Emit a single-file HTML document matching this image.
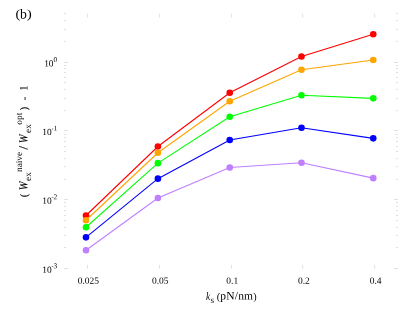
<!DOCTYPE html>
<html lang="en"><head><meta charset="utf-8"><title>chart</title>
<style>html,body{margin:0;padding:0;background:#fff}svg{display:block;will-change:transform}</style></head>
<body>
<svg width="415" height="321" viewBox="0 0 415 321">
<rect width="415" height="321" fill="#fff"/>
<path d="M64 62h4v1h-4zM394 62h4v1h-4zM64 130h4v1h-4zM394 130h4v1h-4zM64 199h4v1h-4zM394 199h4v1h-4zM64 268h4v1h-4zM394 268h4v1h-4zM64 41h2v1h-2zM396 41h2v1h-2zM64 29h2v1h-2zM396 29h2v1h-2zM64 20h2v1h-2zM396 20h2v1h-2zM64 13h2v1h-2zM396 13h2v1h-2zM64 110h2v1h-2zM396 110h2v1h-2zM64 98h2v1h-2zM396 98h2v1h-2zM64 89h2v1h-2zM396 89h2v1h-2zM64 82h2v1h-2zM396 82h2v1h-2zM64 77h2v1h-2zM396 77h2v1h-2zM64 72h2v1h-2zM396 72h2v1h-2zM64 68h2v1h-2zM396 68h2v1h-2zM64 65h2v1h-2zM396 65h2v1h-2zM64 179h2v1h-2zM396 179h2v1h-2zM64 166h2v1h-2zM396 166h2v1h-2zM64 158h2v1h-2zM396 158h2v1h-2zM64 151h2v1h-2zM396 151h2v1h-2zM64 146h2v1h-2zM396 146h2v1h-2zM64 141h2v1h-2zM396 141h2v1h-2zM64 137h2v1h-2zM396 137h2v1h-2zM64 134h2v1h-2zM396 134h2v1h-2zM64 247h2v1h-2zM396 247h2v1h-2zM64 235h2v1h-2zM396 235h2v1h-2zM64 227h2v1h-2zM396 227h2v1h-2zM64 220h2v1h-2zM396 220h2v1h-2zM64 215h2v1h-2zM396 215h2v1h-2zM64 210h2v1h-2zM396 210h2v1h-2zM64 206h2v1h-2zM396 206h2v1h-2zM64 202h2v1h-2zM396 202h2v1h-2z" fill="#e0e0e0" shape-rendering="crispEdges"/>
<path d="M87.1 13.7h1v3.9h-1zM87.1 264.8h1v3.9h-1zM159.1 13.7h1v3.9h-1zM159.1 264.8h1v3.9h-1zM231.1 13.7h1v3.9h-1zM231.1 264.8h1v3.9h-1zM302.1 13.7h1v3.9h-1zM302.1 264.8h1v3.9h-1zM374.1 13.7h1v3.9h-1zM374.1 264.8h1v3.9h-1z" fill="#e0e0e0"/>
<polyline points="86,215.5 157.9,146.5 229.75,92.75 301.5,56.5 373.25,34.25" fill="none" stroke="#ff0000" stroke-width="1.1"/>
<circle cx="86" cy="215.5" r="3.3" fill="#ff0000"/>
<circle cx="157.9" cy="146.5" r="3.3" fill="#ff0000"/>
<circle cx="229.75" cy="92.75" r="3.3" fill="#ff0000"/>
<circle cx="301.5" cy="56.5" r="3.3" fill="#ff0000"/>
<circle cx="373.25" cy="34.25" r="3.3" fill="#ff0000"/>
<polyline points="86,220.25 157.9,152.75 229.75,101.25 301.5,69.75 373.25,60.0" fill="none" stroke="#ffa500" stroke-width="1.1"/>
<circle cx="86" cy="220.25" r="3.3" fill="#ffa500"/>
<circle cx="157.9" cy="152.75" r="3.3" fill="#ffa500"/>
<circle cx="229.75" cy="101.25" r="3.3" fill="#ffa500"/>
<circle cx="301.5" cy="69.75" r="3.3" fill="#ffa500"/>
<circle cx="373.25" cy="60.0" r="3.3" fill="#ffa500"/>
<polyline points="86,227.25 157.9,163.15 229.75,116.75 301.5,95.25 373.25,98.35" fill="none" stroke="#00ff00" stroke-width="1.1"/>
<circle cx="86" cy="227.25" r="3.3" fill="#00ff00"/>
<circle cx="157.9" cy="163.15" r="3.3" fill="#00ff00"/>
<circle cx="229.75" cy="116.75" r="3.3" fill="#00ff00"/>
<circle cx="301.5" cy="95.25" r="3.3" fill="#00ff00"/>
<circle cx="373.25" cy="98.35" r="3.3" fill="#00ff00"/>
<polyline points="86,237.35 157.9,178.65 229.75,140.0 301.5,127.75 373.25,138.35" fill="none" stroke="#0000ff" stroke-width="1.1"/>
<circle cx="86" cy="237.35" r="3.3" fill="#0000ff"/>
<circle cx="157.9" cy="178.65" r="3.3" fill="#0000ff"/>
<circle cx="229.75" cy="140.0" r="3.3" fill="#0000ff"/>
<circle cx="301.5" cy="127.75" r="3.3" fill="#0000ff"/>
<circle cx="373.25" cy="138.35" r="3.3" fill="#0000ff"/>
<polyline points="86,250.25 157.9,198.0 229.75,167.5 301.5,162.75 373.25,178.15" fill="none" stroke="#bf7fff" stroke-width="1.1"/>
<circle cx="86" cy="250.25" r="3.3" fill="#bf7fff"/>
<circle cx="157.9" cy="198.0" r="3.3" fill="#bf7fff"/>
<circle cx="229.75" cy="167.5" r="3.3" fill="#bf7fff"/>
<circle cx="301.5" cy="162.75" r="3.3" fill="#bf7fff"/>
<circle cx="373.25" cy="178.15" r="3.3" fill="#bf7fff"/>
<g font-family="Liberation Serif, serif" fill="#000" text-rendering="geometricPrecision" opacity="0.999">
<text transform="translate(15.43,17.92) rotate(0.03) scale(1.15,1)" font-size="12.3">(</text>
<text transform="rotate(0.03 20.06 18.4)" x="20.06" y="18.4" font-size="13.7">b</text>
<text transform="translate(26.92,17.92) rotate(0.03) scale(1.15,1)" font-size="12.3">)</text>
<text transform="rotate(0.03 88.4 283.8)" x="88.4" y="283.8" font-size="9.5" text-anchor="middle">0.025</text>
<text transform="rotate(0.03 160.3 283.8)" x="160.3" y="283.8" font-size="9.5" text-anchor="middle">0.05</text>
<text transform="rotate(0.03 232.2 283.8)" x="232.2" y="283.8" font-size="9.5" text-anchor="middle">0.1</text>
<text transform="rotate(0.03 303.9 283.8)" x="303.9" y="283.8" font-size="9.5" text-anchor="middle">0.2</text>
<text transform="rotate(0.03 375.6 283.8)" x="375.6" y="283.8" font-size="9.5" text-anchor="middle">0.4</text>
<text transform="rotate(0.03 53.55 66.4)" x="53.55" y="66.4" font-size="9.4" text-anchor="end">10</text>
<text transform="rotate(0.03 53.6 61.9)" x="53.6" y="61.9" font-size="7.4">0</text>
<text transform="rotate(0.03 51.65 135.05)" x="51.65" y="135.05" font-size="9.4" text-anchor="end">10</text>
<text transform="rotate(0.03 51.4 130.55)" x="51.4" y="130.55" font-size="6.4">-</text>
<text transform="rotate(0.03 53.6 130.55)" x="53.6" y="130.55" font-size="7.4">1</text>
<text transform="rotate(0.03 51.65 203.7)" x="51.65" y="203.7" font-size="9.4" text-anchor="end">10</text>
<text transform="rotate(0.03 51.4 199.2)" x="51.4" y="199.2" font-size="6.4">-</text>
<text transform="rotate(0.03 53.6 199.2)" x="53.6" y="199.2" font-size="7.4">2</text>
<text transform="rotate(0.03 51.65 272.65)" x="51.65" y="272.65" font-size="9.4" text-anchor="end">10</text>
<text transform="rotate(0.03 51.4 268.15)" x="51.4" y="268.15" font-size="6.4">-</text>
<text transform="rotate(0.03 53.6 268.15)" x="53.6" y="268.15" font-size="7.4">3</text>
<text transform="translate(205.9,299.6) rotate(0.03) scale(0.82,1)" font-size="11.5" font-style="italic">k</text>
<text transform="rotate(0.03 210.4 303.0)" x="210.4" y="303.0" font-size="9.2">s</text>
<text transform="rotate(0.03 216.7 299.6)" x="216.7" y="299.6" font-size="11.5" letter-spacing="0.19"><tspan font-size="10.3" dy="0.3">(</tspan><tspan dy="-0.3">pN/nm</tspan><tspan font-size="10.3" dy="0.3">)</tspan></text>
<text transform="translate(27.25,197.3) rotate(-89.96)" font-size="10.3" stroke="#000" stroke-width="0.1">(</text>
<text transform="translate(27.6,190.2) rotate(-89.96) scale(0.91,1.08)" font-size="11.5" font-style="italic" stroke="#000" stroke-width="0.12">W</text>
<text transform="translate(31.1,180.9) rotate(-89.96)" font-size="9.2">ex</text>
<text transform="translate(21.900000000000002,171.9) rotate(-89.96)" font-size="9.2">naive</text>
<text transform="translate(27.6,149.6) rotate(-89.96)" font-size="12.6" stroke="#000" stroke-width="0.2">/</text>
<text transform="translate(27.6,143.2) rotate(-89.96) scale(0.91,1.08)" font-size="11.5" font-style="italic" stroke="#000" stroke-width="0.12">W</text>
<text transform="translate(31.1,132.9) rotate(-89.96)" font-size="9.2">ex</text>
<text transform="translate(21.900000000000002,124.85) rotate(-89.96)" font-size="9.2" letter-spacing="0.2">opt</text>
<text transform="translate(27.25,110.3) rotate(-89.96)" font-size="10.3" stroke="#000" stroke-width="0.1">)</text>
<text transform="translate(27.8,100.4) rotate(-89.96)" font-size="11.5">-</text>
<text transform="translate(27.6,91.0) rotate(-89.96)" font-size="11.5">1</text>
</g>
</svg>
</body></html>
